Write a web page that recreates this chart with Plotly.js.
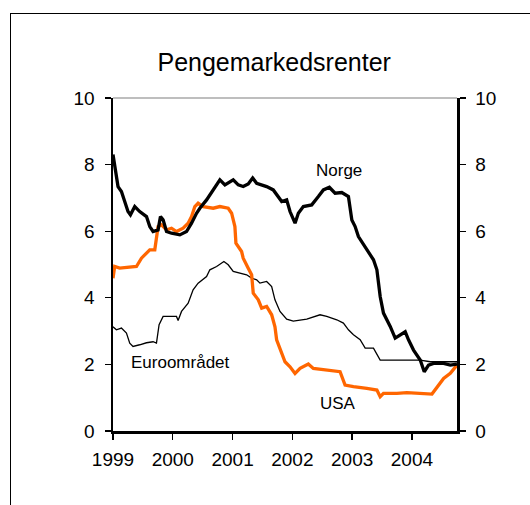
<!DOCTYPE html>
<html>
<head>
<meta charset="utf-8">
<script src="https://cdn.plot.ly/plotly-3.0.1.min.js"></script>
<style>
  html, body { margin: 0; padding: 0; background: #fff; }
  #wrap { position: relative; width: 530px; height: 505px; overflow: hidden; }
  #chart { position: absolute; left: 0; top: 0; width: 530px; height: 505px; }
  #frame { position: absolute; left: 10px; top: 13px; width: 700px; height: 700px;
           border-left: 1.6px solid #000; border-top: 1.6px solid #000; pointer-events: none; }
</style>
</head>
<body>
<div id="wrap"><div id="chart"></div><div id="frame"></div></div>
<script>
// Norge (thick black)
const norgeX = [1999.000,1999.028,1999.057,1999.084,1999.141,1999.196,1999.251,1999.292,1999.364,1999.447,1999.560,1999.615,1999.670,1999.754,1999.794,1999.838,1999.895,1999.979,2000.118,2000.230,2000.314,2000.397,2000.453,2000.565,2000.676,2000.788,2000.872,2001.011,2001.095,2001.178,2001.262,2001.336,2001.403,2001.570,2001.681,2001.765,2001.822,2001.905,2001.961,2002.045,2002.100,2002.184,2002.324,2002.435,2002.519,2002.619,2002.715,2002.827,2002.938,2002.995,2003.050,2003.105,2003.218,2003.330,2003.357,2003.414,2003.469,2003.524,2003.637,2003.720,2003.804,2003.888,2003.943,2004.027,2004.139,2004.206,2004.278,2004.362,2004.530,2004.642,2004.754];
const norgeY = [8.30,7.95,7.64,7.34,7.19,6.89,6.59,6.49,6.74,6.59,6.44,6.14,5.99,6.04,6.44,6.34,5.99,5.94,5.89,5.99,6.24,6.54,6.69,6.94,7.24,7.54,7.39,7.54,7.39,7.34,7.42,7.60,7.44,7.34,7.24,7.04,6.89,6.94,6.59,6.24,6.54,6.74,6.79,7.04,7.24,7.32,7.14,7.16,7.04,6.34,6.14,5.84,5.54,5.24,5.14,4.84,4.04,3.54,3.14,2.79,2.89,2.98,2.74,2.43,2.13,1.78,1.98,2.03,2.03,1.98,2.01];

// Euroområdet (thin black)
const euroX = [1999.000,1999.057,1999.141,1999.225,1999.280,1999.335,1999.447,1999.560,1999.670,1999.727,1999.771,1999.838,1999.950,2000.062,2000.089,2000.146,2000.257,2000.340,2000.424,2000.565,2000.620,2000.733,2000.855,2000.927,2001.011,2001.123,2001.235,2001.319,2001.403,2001.458,2001.570,2001.654,2001.709,2001.793,2001.905,2002.016,2002.241,2002.463,2002.575,2002.743,2002.854,2002.938,2003.022,2003.134,2003.218,2003.357,2003.469,2004.139,2004.307,2004.754];
const euroY = [3.13,3.04,3.09,2.94,2.64,2.54,2.59,2.65,2.68,2.64,3.19,3.44,3.44,3.44,3.32,3.59,3.84,4.24,4.44,4.64,4.84,4.94,5.09,4.99,4.79,4.74,4.69,4.59,4.54,4.44,4.49,4.34,3.94,3.59,3.36,3.30,3.36,3.49,3.44,3.34,3.24,3.04,2.89,2.74,2.49,2.49,2.13,2.13,2.08,2.08];

// USA (orange)
const usaX = [1999.000,1999.028,1999.112,1999.392,1999.476,1999.560,1999.615,1999.699,1999.754,1999.811,1999.895,1999.979,2000.062,2000.173,2000.257,2000.314,2000.369,2000.424,2000.508,2000.676,2000.788,2000.927,2000.984,2001.039,2001.056,2001.151,2001.178,2001.262,2001.319,2001.346,2001.430,2001.487,2001.570,2001.654,2001.709,2001.737,2001.822,2001.877,2001.961,2002.045,2002.129,2002.267,2002.351,2002.631,2002.798,2002.882,2003.022,2003.246,2003.414,2003.469,2003.524,2003.749,2003.916,2004.335,2004.419,2004.530,2004.642,2004.754];
const usaY = [4.59,4.94,4.89,4.94,5.19,5.34,5.44,5.44,6.14,6.19,6.04,6.09,5.99,6.09,6.24,6.44,6.74,6.84,6.74,6.69,6.74,6.69,6.54,6.14,5.64,5.39,5.19,4.89,4.69,4.14,3.94,3.69,3.74,3.49,3.13,2.74,2.34,2.08,1.93,1.73,1.88,2.01,1.88,1.83,1.78,1.38,1.33,1.28,1.23,1.03,1.13,1.13,1.15,1.11,1.33,1.58,1.73,1.98];

const yearTicks = [1999, 2000, 2001, 2002, 2003, 2004];
const yearLabels = ['1999', '2000', '2001', '2002', '2003', '2004'];
const valueTicks = [0, 2, 4, 6, 8, 10];

const labelNames = ['Norge', 'Euroområdet', 'USA'];
const labelX = [2002.78, 2000.13, 2002.77];
const labelY = [7.81, 2.05, 0.84];

const FONT = 'Arial, "Liberation Sans", sans-serif';

const traces = [
  { x: euroX, y: euroY, type: 'scatter', mode: 'lines', name: 'Euroområdet',
    line: { color: '#000000', width: 1.3 } },
  { x: usaX, y: usaY, type: 'scatter', mode: 'lines', name: 'USA',
    line: { color: '#FF6600', width: 3.3 } },
  { x: norgeX, y: norgeY, type: 'scatter', mode: 'lines', name: 'Norge',
    line: { color: '#000000', width: 3.3 } },
  { x: [], y: [], type: 'scatter', mode: 'lines', yaxis: 'y2', showlegend: false, hoverinfo: 'skip' }
];

const axisCommon = {
  showgrid: false, zeroline: false, showline: true, linecolor: '#000', linewidth: 2.5,
  ticks: 'outside', ticklen: 6, tickwidth: 1.3, tickcolor: '#000',
  tickfont: { family: FONT, size: 19, color: '#000' }
};

const layout = {
  width: 530, height: 505,
  margin: { l: 113.3, r: 72.7, t: 98.3, b: 74 },
  paper_bgcolor: '#fff', plot_bgcolor: '#fff',
  showlegend: false,
  font: { family: FONT, color: '#000' },
  title: { text: 'Pengemarkedsrenter', font: { family: FONT, size: 25, color: '#000' },
           xref: 'paper', x: (274.5 - 113.3) / 344, xanchor: 'center',
           yref: 'container', y: 1 - 62 / 505, yanchor: 'middle' },
  xaxis: Object.assign({}, axisCommon, {
    range: [1999, 2004.754], tickmode: 'array', tickvals: yearTicks, ticktext: yearLabels,
    ticklabelstandoff: 4
  }),
  yaxis: Object.assign({}, axisCommon, {
    range: [0, 10], tickmode: 'array', tickvals: valueTicks, ticklabelstandoff: 6
  }),
  yaxis2: Object.assign({}, axisCommon, {
    range: [0, 10], tickmode: 'array', tickvals: valueTicks, overlaying: 'y', side: 'right',
    anchor: 'x', ticklabelstandoff: 6
  }),
  shapes: [
    { type: 'line', xref: 'paper', yref: 'paper', x0: 0, x1: 1, y0: 1, y1: 1,
      line: { color: '#7f7f7f', width: 1.2 } }
  ],
  annotations: labelNames.map((t, i) => ({
    text: t, x: labelX[i], y: labelY[i], xref: 'x', yref: 'y', showarrow: false,
    xanchor: 'center', yanchor: 'middle', font: { family: FONT, size: 17, color: '#000' }
  }))
};

Plotly.newPlot('chart', traces, layout, { staticPlot: true, displayModeBar: false });
</script>
</body>
</html>
